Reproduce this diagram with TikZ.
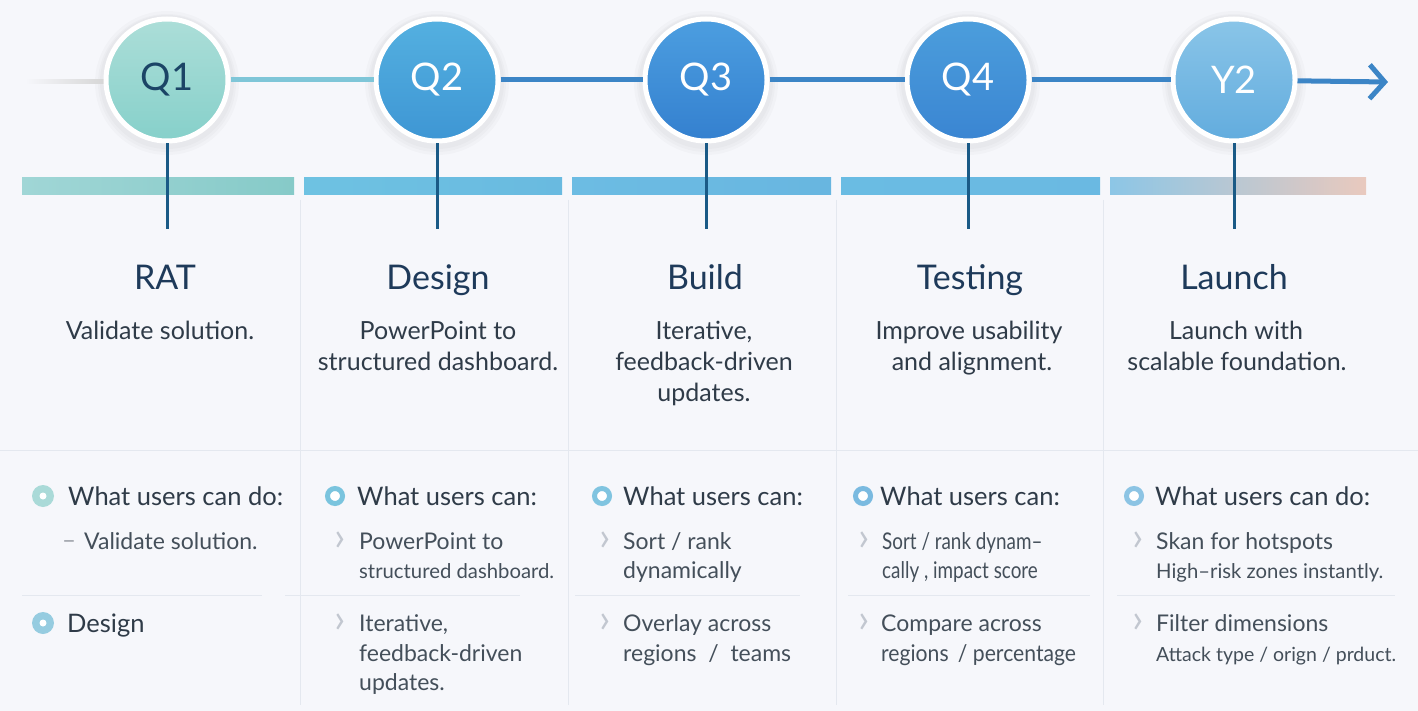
\documentclass[tikz,border=0pt]{standalone}
\usepackage{fontspec}
\setmainfont{Lato}
\usetikzlibrary{arrows.meta}
\definecolor{bg}{HTML}{F6F7FB}
\definecolor{ttl}{HTML}{1E3A5A}
\definecolor{body}{HTML}{2F3B48}
\definecolor{sep}{HTML}{E4E8EF}
\definecolor{stemc}{HTML}{1A5A86}
\definecolor{lineA}{HTML}{7FC6D8}
\definecolor{lineB}{HTML}{3C85C6}
\definecolor{chev}{HTML}{C2C7D0}
\definecolor{q1t}{RGB}{172,222,216}\definecolor{q1b}{RGB}{134,208,202}\definecolor{q1x}{RGB}{27,68,102}
\definecolor{q2t}{RGB}{84,176,224}\definecolor{q2b}{RGB}{62,150,212}
\definecolor{q3t}{RGB}{76,158,224}\definecolor{q3b}{RGB}{52,128,207}
\definecolor{q4t}{RGB}{76,158,220}\definecolor{q4b}{RGB}{58,133,210}
\definecolor{y2t}{RGB}{138,197,232}\definecolor{y2b}{RGB}{98,172,222}
\definecolor{b1l}{RGB}{160,214,214}\definecolor{b1r}{RGB}{134,202,200}
\definecolor{b2l}{RGB}{110,194,226}\definecolor{b2r}{RGB}{105,186,224}
\definecolor{b3l}{RGB}{108,188,227}\definecolor{b3r}{RGB}{104,182,224}
\definecolor{b4l}{RGB}{106,188,227}\definecolor{b4r}{RGB}{106,185,226}
\definecolor{b5l}{RGB}{140,198,230}\definecolor{b5m}{RGB}{196,214,228}\definecolor{b5r}{RGB}{233,201,190}
\definecolor{k1}{RGB}{170,218,216}\definecolor{k1b}{RGB}{150,204,224}
\definecolor{k2}{RGB}{122,196,222}\definecolor{k3}{RGB}{128,196,224}
\definecolor{k4}{RGB}{122,186,224}\definecolor{k5}{RGB}{140,196,228}
\begin{document}
\begin{tikzpicture}[x=1pt,y=-1pt,
  qc/.style={circle, minimum size=122pt, inner sep=0pt, draw=white, line width=5pt,
    font=\fontsize{38}{40}\selectfont},
  halo/.style={fill=black, opacity=0.018},
  tl/.style={line width=5pt, color=lineB},
  stem/.style={line width=3pt, color=stemc},
  bar/.style={draw=none},
  title/.style={anchor=base, inner sep=0pt, text=ttl, font=\fontsize{34}{38}\selectfont},
  desc/.style={anchor=base, inner sep=0pt, text=body, font=\fontsize{25}{28}\selectfont},
  head/.style={anchor=base west, inner sep=0pt, text=body, font=\fontsize{25.5}{28}\selectfont},
  item/.style={anchor=base west, inner sep=0pt, text=body!90, font=\fontsize{23}{26}\selectfont},
  itemsm/.style={anchor=base west, inner sep=0pt, text=body!90, font=\fontsize{20.3}{24}\selectfont},
  cond/.style={anchor=base west, inner sep=0pt, text=body!90, font=\fontsize{23}{26}\selectfont\addfontfeature{FakeStretch=0.82}},
  chv/.style={anchor=base, inner sep=0pt, text=chev, font=\fontsize{40}{40}\selectfont},
  dsh/.style={anchor=base, inner sep=0pt, text=chev!80!black, font=\fontsize{24}{26}\selectfont},
  ring/.style={circle, minimum size=15pt, inner sep=0pt, fill=white, draw=#1, line width=5pt},
  dotb/.style={circle, minimum size=22pt, inner sep=0pt, fill=#1},
  sepl/.style={line width=1pt, color=sep},
]
\useasboundingbox (0,0) rectangle (1418,711);
\fill[bg] (0,0) rectangle (1418,711);

% separators
\draw[sepl] (0,450) -- (1418,450);
\foreach \x in {300,568,836,1103} \draw[sepl] (\x,200) -- (\x,705);
\draw[sepl] (22,595) -- (262,595);
\draw[sepl] (285,595) -- (520,595);
\draw[sepl] (575,595) -- (800,595);
\draw[sepl] (848,595) -- (1090,595);
\draw[sepl] (1117,595) -- (1395,595);

% bars
\shade[bar, left color=b1l, right color=b1r] (22,178) rectangle (294,195);
\shade[bar, left color=b2l, right color=b2r] (304,178) rectangle (562,195);
\shade[bar, left color=b3l, right color=b3r] (572,178) rectangle (831,195);
\shade[bar, left color=b4l, right color=b4r] (841,178) rectangle (1100,195);
\shade[bar, left color=b5l, middle color=b5m, right color=b5r] (1110,178) rectangle (1366,195);

% soft halos
\foreach \x in {167,437,706,968,1234} {
  \fill[halo] (\x,83) circle (72);
  \fill[halo] (\x,83) circle (69);
  \fill[halo] (\x,82) circle (67);
}

% timeline start fade
\shade[left color=bg, right color=black!16] (25,80) rectangle (104,84);

% circles
\node[qc, top color=q1t, bottom color=q1b, text=q1x] (q1) at (167,80) {Q1};
\node[qc, top color=q2t, bottom color=q2b, text=white] (q2) at (437,80) {Q2};
\node[qc, top color=q3t, bottom color=q3b, text=white] (q3) at (706,80) {Q3};
\node[qc, top color=q4t, bottom color=q4b, text=white] (q4) at (968,80) {Q4};
\node[qc, top color=y2t, bottom color=y2b, text=white] (y2) at (1234,80) {Y2};

\coordinate (arr) at (1388,82);
\draw[tl, color=lineA] (q1) -- (q2);
\draw[tl] (q2) -- (q3);
\draw[tl] (q3) -- (q4);
\draw[tl] (q4) -- (y2);
\draw[tl, -{Straight Barb[length=15pt,width=34pt,line width=5pt]}] (y2) -- (arr);

% stems
\coordinate (s1) at (167,229);
\coordinate (s2) at (437,229);
\coordinate (s3) at (706,229);
\coordinate (s4) at (968,229);
\coordinate (s5) at (1234,229);
\draw[stem] (q1.south) -- (s1);
\draw[stem] (q2.south) -- (s2);
\draw[stem] (q3.south) -- (s3);
\draw[stem] (q4.south) -- (s4);
\draw[stem] (y2.south) -- (s5);

% titles
\node[title] (t1) at (165,289) {RAT};
\node[title] (t2) at (438,289) {Design};
\node[title] (t3) at (705,289) {Build};
\node[title] (t4) at (970,289) {Testing};
\node[title] (t5) at (1234,289) {Launch};

% descriptions
\node[desc] (d1a) at (160,339) {Validate solution.};
\node[desc] (d2a) at (438,339) {PowerPoint to};
\node[desc] (d2b) at (438,370) {structured dashboard.};
\node[desc] (d3a) at (704,339) {Iterative,};
\node[desc] (d3b) at (704,370) {feedback-driven};
\node[desc] (d3c) at (704,401) {updates.};
\node[desc] (d4a) at (969,339) {Improve usability};
\node[desc] (d4b) at (972,370) {and alignment.};
\node[desc] (d5a) at (1236,339) {Launch with};
\node[desc] (d5b) at (1237,370) {scalable foundation.};

% column 1
\node[dotb=k1] (b1) at (43,496) {};
\node[circle, fill=white, minimum size=7pt, inner sep=0pt] (b1c) at (b1) {};
\node[head] (h1) at (68,505) {What users can do:};
\node[dsh] (c1a) at (69,548) {–};
\node[item] (i1a) at (84,549) {Validate solution.};
\node[dotb=k1b] (b1b) at (43,623) {};
\node[circle, fill=white, minimum size=7pt, inner sep=0pt] (b1bc) at (b1b) {};
\node[head] (h1b) at (67,632) {Design};

% column 2
\node[ring=k2] (b2) at (335,496) {};
\node[head] (h2) at (357,505) {What users can:};
\node[chv] (c2a) at (340,550) {›};
\node[item] (i2a) at (359,549) {PowerPoint to};
\node[itemsm] (i2b) at (359,578) {structured dashboard.};
\node[chv] (c2b) at (340,632) {›};
\node[item] (i2c) at (359,631) {Iterative,};
\node[item] (i2d) at (359,661) {feedback-driven};
\node[item] (i2e) at (359,690) {updates.};

% column 3
\node[ring=k3] (b3) at (602,496) {};
\node[head] (h3) at (623,505) {What users can:};
\node[chv] (c3a) at (605,550) {›};
\node[item] (i3a) at (623,549) {Sort / rank};
\node[item] (i3b) at (623,578) {dynamically};
\node[chv] (c3b) at (605,632) {›};
\node[item] (i3c) at (623,631) {Overlay across};
\node[item] (i3d) at (623,661) {regions \ / \ teams};

% column 4
\node[ring=k4] (b4) at (863,496) {};
\node[head] (h4) at (880,505) {What users can:};
\node[chv] (c4a) at (864,550) {›};
\node[cond] (i4a) at (882,549) {Sort / rank dynam–};
\node[cond] (i4b) at (882,578) {cally , impact score};
\node[chv] (c4b) at (864,632) {›};
\node[item] (i4c) at (881,631) {Compare across};
\node[item, font=\fontsize{23}{26}\selectfont\addfontfeature{FakeStretch=0.92}] (i4d) at (881,661) {regions \,/ percentage};

% column 5
\node[ring=k5] (b5) at (1134,496) {};
\node[head] (h5) at (1155,505) {What users can do:};
\node[chv] (c5a) at (1138,550) {›};
\node[item] (i5a) at (1156,549) {Skan for hotspots};
\node[itemsm] (i5b) at (1156,578) {High–risk zones instantly.};
\node[chv] (c5b) at (1138,632) {›};
\node[item] (i5c) at (1156,631) {Filter dimensions};
\node[itemsm, font=\fontsize{19.5}{24}\selectfont] (i5d) at (1156,661) {Attack type / orign / prduct.};
\end{tikzpicture}
\end{document}
